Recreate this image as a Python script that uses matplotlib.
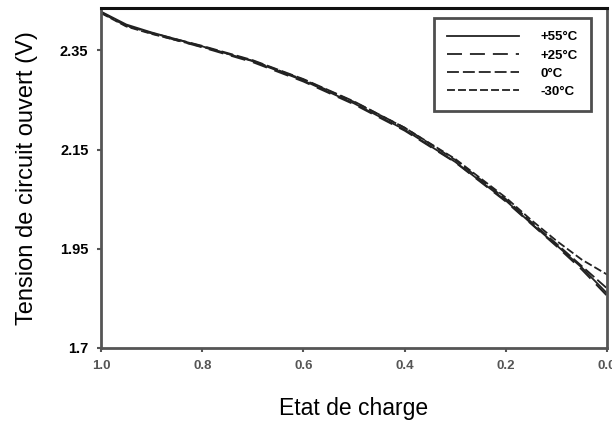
# Tension de circuit ouvert en fonction de l'état de charge
import matplotlib.pyplot as plt

plt.rcParams['font.family'] = ['Liberation Sans', 'DejaVu Sans']

soc = [1.0, 0.95, 0.9, 0.8, 0.7, 0.6, 0.5, 0.4, 0.3, 0.2, 0.15, 0.1, 0.05, 0.0]
v_p55 = [2.428, 2.402, 2.386, 2.358, 2.328, 2.289, 2.243, 2.190, 2.125, 2.047, 2.001, 1.957, 1.912, 1.860]
v_p25 = [2.427, 2.400, 2.384, 2.356, 2.326, 2.287, 2.241, 2.188, 2.124, 2.045, 2.000, 1.955, 1.908, 1.855]
v_0 = [2.426, 2.399, 2.385, 2.359, 2.330, 2.292, 2.247, 2.194, 2.129, 2.050, 2.004, 1.960, 1.915, 1.870]
v_m30 = [2.425, 2.398, 2.383, 2.357, 2.329, 2.291, 2.246, 2.194, 2.131, 2.053, 2.008, 1.966, 1.928, 1.898]
labels = ['+55°C', '+25°C', '0°C', '-30°C']

x_ticks = [1.0, 0.8, 0.6, 0.4, 0.2, 0.0]
x_tick_labels = ['1.0', '0.8', '0.6', '0.4', '0.2', '0.0']
y_ticks = [1.75, 1.95, 2.15, 2.35]
y_tick_labels = ['1.7', '1.95', '2.15', '2.35']

fig = plt.figure(figsize=(6.12, 4.28), dpi=100)
ax = fig.add_axes([0.165, 0.187, 0.827, 0.794])

lw = 1.3
col = '#222222'
ax.plot(soc, v_p55, color=col, lw=lw, linestyle='-', label=labels[0])
ax.plot(soc, v_p25, color=col, lw=lw, linestyle=(0, (8.3, 4.4)), label=labels[1])
ax.plot(soc, v_0, color=col, lw=lw, linestyle=(0, (6.6, 2.2)), label=labels[2])
ax.plot(soc, v_m30, color=col, lw=lw, linestyle=(0, (4.4, 1.7)), label=labels[3])

ax.set_xlim(1.0, 0.0)
ax.set_ylim(1.75, 2.435)
ax.set_xticks(x_ticks)
ax.set_xticklabels(x_tick_labels, fontsize=9.5, fontweight='bold', color='#555555')
ax.set_yticks(y_ticks)
ax.set_yticklabels(y_tick_labels, fontsize=10.5, fontweight='bold', color='black')
ax.tick_params(axis='both', direction='out', length=3, width=1.5, color='#555555', pad=6)

for s in ['left', 'bottom', 'right']:
    ax.spines[s].set_color('#555555')
    ax.spines[s].set_linewidth(2)
ax.spines['top'].set_color('#111111')
ax.spines['top'].set_linewidth(2.2)

ax.set_xlabel('Etat de charge', fontsize=16.5, labelpad=18)
ax.set_ylabel('Tension de circuit ouvert (V)', fontsize=17, labelpad=16)

leg = ax.legend(loc='upper right', bbox_to_anchor=(0.968, 0.971), borderaxespad=0,
                fancybox=False, frameon=True, handlelength=5.5, handletextpad=1.6,
                labelspacing=0.45, borderpad=1.0, prop={'size': 9.5, 'weight': 'bold'})
leg.get_frame().set_edgecolor('#222222')
leg.get_frame().set_linewidth(2)

plt.savefig('out.png', dpi=100)
